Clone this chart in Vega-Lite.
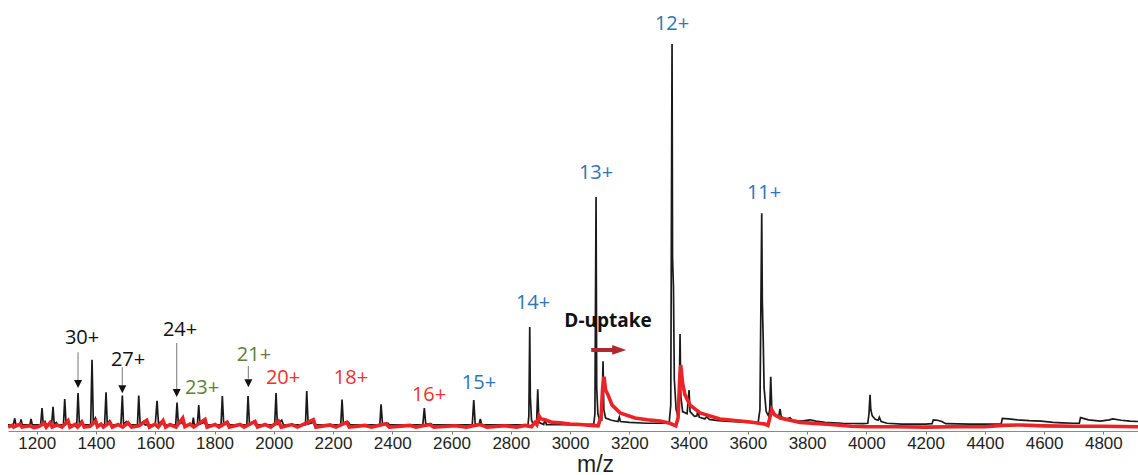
{
 "$schema": "https://vega.github.io/schema/vega-lite/v6.json",
 "width": 1130, "height": 431,
 "autosize": {"type": "none"},
 "padding": {"left": 8, "top": 0, "right": 0, "bottom": 44},
 "background": "white",
 "config": {"view": {"stroke": null}},
 "datasets": {
  "black": [
   {"mz":1103,"i":1.4},{"mz":1121,"i":1.4},{"mz":1125.7,"i":2.95},{"mz":1130,"i":1.4},{"mz":1143,"i":1.4},{"mz":1147,"i":2.7},{"mz":1151,"i":1.4},
   {"mz":1177,"i":1.4},{"mz":1180.8,"i":2.8},{"mz":1185,"i":1.4},
   {"mz":1213,"i":1.4},{"mz":1217.9,"i":5.3},{"mz":1222,"i":1.6},{"mz":1228,"i":2.2},{"mz":1233,"i":1.4},
   {"mz":1250,"i":1.4},{"mz":1255,"i":5.6},{"mz":1259,"i":1.6},{"mz":1266,"i":2.0},{"mz":1272,"i":1.4},
   {"mz":1290,"i":1.4},{"mz":1294.5,"i":7.4},{"mz":1299,"i":1.6},{"mz":1306,"i":2.2},{"mz":1312,"i":1.4},
   {"mz":1335,"i":1.4},{"mz":1339.4,"i":8.8},{"mz":1344,"i":1.6},{"mz":1352,"i":2.4},{"mz":1358,"i":1.4},
   {"mz":1382,"i":1.4},{"mz":1386.6,"i":16.5},{"mz":1391,"i":2.0},{"mz":1398,"i":3.0},{"mz":1404,"i":1.5},
   {"mz":1429,"i":1.4},{"mz":1433.9,"i":9.0},{"mz":1438,"i":1.7},{"mz":1446,"i":2.4},{"mz":1452,"i":1.4},
   {"mz":1484,"i":1.4},{"mz":1488.9,"i":8.2},{"mz":1493,"i":1.6},{"mz":1503,"i":2.2},{"mz":1509,"i":1.4},
   {"mz":1540,"i":1.4},{"mz":1544.3,"i":8.2},{"mz":1549,"i":1.6},{"mz":1560,"i":2.2},{"mz":1566,"i":1.4},
   {"mz":1600,"i":1.4},{"mz":1606,"i":7.0},{"mz":1611,"i":1.7},{"mz":1622,"i":2.3},{"mz":1628,"i":1.4},
   {"mz":1669,"i":1.4},{"mz":1673.5,"i":6.6},{"mz":1678,"i":1.6},{"mz":1690,"i":2.0},{"mz":1696,"i":1.4},
   {"mz":1725,"i":1.4},{"mz":1728.6,"i":3.1},{"mz":1732,"i":1.4},{"mz":1742,"i":1.4},{"mz":1746.8,"i":6.0},{"mz":1751,"i":1.6},{"mz":1765,"i":2.0},{"mz":1771,"i":1.4},
   {"mz":1822,"i":1.4},{"mz":1826.4,"i":8.1},{"mz":1831,"i":1.6},{"mz":1845,"i":2.1},{"mz":1851,"i":1.4},
   {"mz":1909,"i":1.4},{"mz":1913.2,"i":8.1},{"mz":1918,"i":1.6},{"mz":1932,"i":2.2},{"mz":1938,"i":1.4},
   {"mz":2003,"i":1.4},{"mz":2007.7,"i":8.8},{"mz":2012,"i":1.6},{"mz":2027,"i":2.5},{"mz":2033,"i":1.4},
   {"mz":2107,"i":1.4},{"mz":2111.3,"i":9.3},{"mz":2116,"i":1.6},{"mz":2132,"i":2.0},{"mz":2138,"i":1.4},
   {"mz":2226,"i":1.4},{"mz":2230.5,"i":7.3},{"mz":2235,"i":1.6},{"mz":2252,"i":2.0},{"mz":2258,"i":1.4},
   {"mz":2358,"i":1.4},{"mz":2362.1,"i":6.2},{"mz":2367,"i":1.6},{"mz":2385,"i":1.8},{"mz":2391,"i":1.4},
   {"mz":2503,"i":1.4},{"mz":2508.2,"i":5.3},{"mz":2513,"i":1.6},{"mz":2530,"i":1.7},{"mz":2536,"i":1.4},
   {"mz":2670,"i":1.4},{"mz":2675,"i":7.2},{"mz":2680,"i":1.6},{"mz":2693,"i":1.5},{"mz":2697.3,"i":2.8},{"mz":2702,"i":1.4},
   {"mz":2858,"i":1.4},{"mz":2861,"i":3.5},{"mz":2864,"i":24.1},{"mz":2866,"i":8},{"mz":2870,"i":2.5},{"mz":2876,"i":1.6},{"mz":2887,"i":1.6},{"mz":2891,"i":9.7},{"mz":2895,"i":2.0},{"mz":2911,"i":1.5},{"mz":2915.6,"i":2.8},{"mz":2920,"i":1.5},
   {"mz":2990,"i":1.5},{"mz":3060,"i":1.5},{"mz":3080,"i":1.6},{"mz":3084,"i":4},{"mz":3087.8,"i":54.3},{"mz":3090,"i":10},{"mz":3094,"i":4.0},{"mz":3100,"i":2.5},{"mz":3107,"i":2.5},{"mz":3111.4,"i":16.2},{"mz":3114,"i":5},{"mz":3120,"i":3.0},{"mz":3140,"i":2.5},{"mz":3162,"i":2.2},{"mz":3166.4,"i":3.2},{"mz":3170,"i":2.2},{"mz":3200,"i":2.0},{"mz":3260,"i":1.8},{"mz":3320,"i":1.8},{"mz":3335,"i":2.2},{"mz":3340,"i":6},
   {"mz":3344.3,"i":89.8},{"mz":3346,"i":40},{"mz":3349,"i":33.6},{"mz":3352,"i":12},{"mz":3358,"i":5},{"mz":3364,"i":3.5},{"mz":3368,"i":5},{"mz":3371.3,"i":22.5},{"mz":3374,"i":8},{"mz":3380,"i":4.5},{"mz":3395,"i":4},{"mz":3401.7,"i":9.5},{"mz":3405,"i":4.5},{"mz":3420,"i":3.4},{"mz":3428,"i":3.5},{"mz":3432,"i":4.9},{"mz":3436,"i":3.2},{"mz":3455,"i":2.8},{"mz":3461.4,"i":3.3},{"mz":3470,"i":2.7},{"mz":3500,"i":2.4},{"mz":3540,"i":2.2},{"mz":3600,"i":2.0},{"mz":3635,"i":2.0},{"mz":3641,"i":5},
   {"mz":3647,"i":50.5},{"mz":3649,"i":30},{"mz":3652,"i":21.3},{"mz":3655,"i":10},{"mz":3662,"i":4.5},{"mz":3670,"i":3.5},{"mz":3674,"i":5},{"mz":3677.4,"i":12.6},{"mz":3681,"i":5},{"mz":3695,"i":3.5},{"mz":3705,"i":3.6},{"mz":3708.8,"i":5.1},{"mz":3713,"i":3.3},{"mz":3730,"i":2.8},{"mz":3742.6,"i":3.1},{"mz":3750,"i":2.5},{"mz":3780,"i":2.3},{"mz":3810,"i":2.6},{"mz":3830,"i":2.3},{"mz":3860,"i":2.0},{"mz":3920,"i":1.8},{"mz":3990,"i":1.7},
   {"mz":4005,"i":1.8},{"mz":4009,"i":4},{"mz":4012.6,"i":8.4},{"mz":4015,"i":5},{"mz":4020,"i":3.5},{"mz":4030,"i":2.7},{"mz":4040,"i":2.5},{"mz":4044,"i":3.2},{"mz":4050,"i":2.2},{"mz":4070,"i":1.8},{"mz":4120,"i":1.6},{"mz":4200,"i":1.6},
   {"mz":4222,"i":1.7},{"mz":4226,"i":2.6},{"mz":4240,"i":2.5},{"mz":4255,"i":2.2},{"mz":4268,"i":1.7},{"mz":4350,"i":1.6},{"mz":4455,"i":1.6},{"mz":4459,"i":2.9},{"mz":4480,"i":2.8},{"mz":4510,"i":2.6},{"mz":4550,"i":2.4},{"mz":4590,"i":2.3},{"mz":4630,"i":2.0},{"mz":4660,"i":1.9},{"mz":4700,"i":1.8},{"mz":4719,"i":1.8},{"mz":4723,"i":3.1},{"mz":4750,"i":2.6},{"mz":4790,"i":2.3},{"mz":4820,"i":2.6},{"mz":4832,"i":2.8},{"mz":4860,"i":2.5},{"mz":4890,"i":2.3},{"mz":4917,"i":2.2}
  ],
  "red": [
   {"mz":1103,"i":0.9},{"mz":1110,"i":1.1},{"mz":1116.6,"i":1.3},{"mz":1122,"i":0.9},{"mz":1143.6,"i":1.6},{"mz":1150,"i":0.9},{"mz":1177,"i":1.2},{"mz":1190,"i":0.8},{"mz":1205,"i":1.0},{"mz":1224.6,"i":1.8},{"mz":1232,"i":0.9},{"mz":1244.9,"i":1.9},{"mz":1252,"i":0.9},{"mz":1268.5,"i":1.4},{"mz":1285,"i":0.9},{"mz":1305.6,"i":2.4},{"mz":1312,"i":0.9},{"mz":1329.3,"i":1.5},{"mz":1338,"i":0.9},{"mz":1352.9,"i":2.0},{"mz":1360,"i":0.9},{"mz":1380,"i":1.1},{"mz":1399.1,"i":2.3},{"mz":1405,"i":1.0},{"mz":1417,"i":1.6},{"mz":1425,"i":0.9},{"mz":1447.4,"i":2.0},{"mz":1455,"i":0.9},{"mz":1474.4,"i":1.5},{"mz":1490,"i":0.9},{"mz":1508.2,"i":1.9},{"mz":1520,"i":0.9},{"mz":1545,"i":1.2},{"mz":1571.3,"i":2.5},{"mz":1580,"i":0.9},{"mz":1599.3,"i":1.6},{"mz":1610,"i":0.9},{"mz":1626.3,"i":2.4},{"mz":1635,"i":0.9},{"mz":1650,"i":1.5},{"mz":1670,"i":0.9},{"mz":1692.8,"i":3.0},{"mz":1700,"i":1.0},{"mz":1717.4,"i":1.6},{"mz":1730,"i":0.9},{"mz":1768.1,"i":2.7},{"mz":1775,"i":0.9},{"mz":1801.8,"i":1.5},{"mz":1815,"i":0.9},{"mz":1842.3,"i":2.0},{"mz":1850,"i":0.9},{"mz":1886.2,"i":1.5},{"mz":1900,"i":0.9},{"mz":1936.8,"i":2.2},{"mz":1945,"i":0.9},{"mz":1970.6,"i":1.5},{"mz":1990,"i":0.9},{"mz":2015.5,"i":2.3},{"mz":2025,"i":0.9},{"mz":2061.7,"i":1.5},{"mz":2080,"i":0.9},{"mz":2133.6,"i":2.6},{"mz":2142,"i":0.9},{"mz":2190,"i":1.4},{"mz":2210,"i":0.9},{"mz":2246.3,"i":2.0},{"mz":2255,"i":0.9},{"mz":2308.1,"i":1.3},{"mz":2330,"i":0.9},{"mz":2378.9,"i":1.7},{"mz":2390,"i":0.9},{"mz":2460,"i":1.3},{"mz":2480,"i":0.9},{"mz":2527.5,"i":1.5},{"mz":2540,"i":0.9},{"mz":2611.9,"i":1.2},{"mz":2650,"i":0.9},{"mz":2696.3,"i":1.5},{"mz":2720,"i":0.9},{"mz":2780.6,"i":1.2},{"mz":2820,"i":0.9},{"mz":2848.1,"i":1.3},{"mz":2870,"i":1.0},{"mz":2881.9,"i":2.0},{"mz":2888,"i":1.5},{"mz":2895.4,"i":3.5},{"mz":2902,"i":2.8},{"mz":2915.6,"i":2.6},{"mz":2940,"i":2.0},{"mz":2966.2,"i":1.9},{"mz":3000,"i":1.6},{"mz":3033.7,"i":1.5},{"mz":3070,"i":1.3},{"mz":3095,"i":1.2},{"mz":3105,"i":3.5},{"mz":3110,"i":10},{"mz":3114.7,"i":12.6},{"mz":3120,"i":9.5},{"mz":3128,"i":8.4},{"mz":3142,"i":6.0},{"mz":3169,"i":4.2},{"mz":3219,"i":3.0},{"mz":3260,"i":2.6},{"mz":3304,"i":2.3},{"mz":3337,"i":1.8},{"mz":3357,"i":1.2},{"mz":3364.6,"i":3},{"mz":3370,"i":12},{"mz":3373.6,"i":15.3},{"mz":3380,"i":11},{"mz":3388,"i":8.4},{"mz":3405,"i":6.0},{"mz":3439,"i":4.2},{"mz":3506,"i":2.8},{"mz":3608,"i":2.1},{"mz":3658,"i":1.6},{"mz":3668,"i":1.3},{"mz":3674,"i":3.0},{"mz":3680.8,"i":4.9},{"mz":3690,"i":3.8},{"mz":3709,"i":3.0},{"mz":3776,"i":2.0},{"mz":3878,"i":1.5},{"mz":3950,"i":1.1},{"mz":4000,"i":1.0},{"mz":4100,"i":1.0},{"mz":4200,"i":0.9},{"mz":4300,"i":1.0},{"mz":4400,"i":1.0},{"mz":4460,"i":1.3},{"mz":4520,"i":1.4},{"mz":4600,"i":1.2},{"mz":4700,"i":1.1},{"mz":4800,"i":1.1},{"mz":4917,"i":1.0}
  ],
  "labels": [
   {"label":"30+","mz":1352.9,"i":21.6,"grp":"k"},
   {"label":"27+","mz":1508.2,"i":16.5,"grp":"k"},
   {"label":"24+","mz":1683.7,"i":23.4,"grp":"k"},
   {"label":"23+","mz":1757.9,"i":10.0,"grp":"g"},
   {"label":"21+","mz":1933.4,"i":17.6,"grp":"g"},
   {"label":"20+","mz":2031.3,"i":12.3,"grp":"r"},
   {"label":"18+","mz":2260.8,"i":12.3,"grp":"r"},
   {"label":"16+","mz":2524.1,"i":8.4,"grp":"r"},
   {"label":"15+","mz":2692.8,"i":11.1,"grp":"b"},
   {"label":"14+","mz":2875.1,"i":29.7,"grp":"b"},
   {"label":"13+","mz":3087.8,"i":59.9,"grp":"b"},
   {"label":"12+","mz":3344.3,"i":94.4,"grp":"b"},
   {"label":"11+","mz":3654.8,"i":55.2,"grp":"b"}
  ],
  "arrows": [
   {"mz":1339.4,"top":18.3,"bottom":11.8,"head":10.9},
   {"mz":1488.9,"top":14.8,"bottom":10.7,"head":9.7},
   {"mz":1672.4,"top":20.4,"bottom":9.7,"head":8.8},
   {"mz":1914.3,"top":15.1,"bottom":12.1,"head":11.1}
  ],
  "shift": [
   {"label":"D-uptake","mz":3128.3,"i":25.5,"start":3071.5,"end":3145,"head":3165.9,"y":18.8}
  ]
 },
 "layer": [
  {
   "data": {"name": "black"},
   "mark": {"type": "line", "color": "#1a1a1a", "strokeWidth": 1.7, "clip": true},
   "encoding": {
    "x": {"field": "mz", "type": "quantitative", "scale": {"domain": [1103, 4917], "nice": false, "zero": false},
          "axis": {"values": [1200,1400,1600,1800,2000,2200,2400,2600,2800,3000,3200,3400,3600,3800,4000,4200,4400,4600,4800],
                   "format": "d", "grid": false, "labelFont": "Liberation Sans", "labelFontSize": 17, "labelColor": "#231f20",
                   "tickSize": 3, "tickColor": "#777777", "domainColor": "#8a8a8a", "labelPadding": 1,
                   "title": "m/z", "titleFont": "Liberation Sans", "titleFontSize": 23, "titleFontWeight": "normal", "titleColor": "#231f20",
                   "titleX": 587, "titleY": 40, "titleBaseline": "alphabetic", "titleAnchor": "middle"}},
    "y": {"field": "i", "type": "quantitative", "scale": {"domain": [0, 100], "nice": false}, "axis": null}
   }
  },
  {
   "data": {"name": "red"},
   "mark": {"type": "line", "color": "#ec2227", "strokeWidth": 3.6, "clip": true},
   "encoding": {
    "x": {"field": "mz", "type": "quantitative"},
    "y": {"field": "i", "type": "quantitative", "axis": null}
   }
  },
  {
   "data": {"name": "arrows"},
   "mark": {"type": "rule", "color": "#8c8c8c", "strokeWidth": 1.2},
   "encoding": {
    "x": {"field": "mz", "type": "quantitative"},
    "y": {"field": "top", "type": "quantitative", "axis": null},
    "y2": {"field": "bottom"}
   }
  },
  {
   "data": {"name": "arrows"},
   "mark": {"type": "point", "shape": "M-1,-1L1,-1L0,1Z", "filled": true, "color": "#111111", "size": 64, "opacity": 1},
   "encoding": {
    "x": {"field": "mz", "type": "quantitative"},
    "y": {"field": "head", "type": "quantitative", "axis": null}
   }
  },
  {
   "data": {"name": "labels"},
   "mark": {"type": "text", "font": "Open Sans", "fontSize": 20, "baseline": "middle", "align": "center"},
   "encoding": {
    "x": {"field": "mz", "type": "quantitative"},
    "y": {"field": "i", "type": "quantitative", "axis": null},
    "text": {"field": "label"},
    "color": {"field": "grp", "type": "nominal", "legend": null,
              "scale": {"domain": ["k","g","r","b"], "range": ["#111111","#5e7f38","#f0302e","#2f74b5"]}}
   }
  },
  {
   "data": {"name": "shift"},
   "mark": {"type": "text", "font": "Open Sans", "fontSize": 19, "fontWeight": "bold", "baseline": "middle", "align": "center", "color": "#111111"},
   "encoding": {
    "x": {"field": "mz", "type": "quantitative"},
    "y": {"field": "i", "type": "quantitative", "axis": null},
    "text": {"field": "label"}
   }
  },
  {
   "data": {"name": "shift"},
   "mark": {"type": "rule", "color": "#b3262b", "strokeWidth": 4},
   "encoding": {
    "x": {"field": "start", "type": "quantitative"},
    "x2": {"field": "end"},
    "y": {"field": "y", "type": "quantitative", "axis": null}
   }
  },
  {
   "data": {"name": "shift"},
   "mark": {"type": "point", "shape": "M-1,-0.7L1,0L-1,0.7Z", "filled": true, "color": "#b3262b", "size": 196, "opacity": 1},
   "encoding": {
    "x": {"field": "head", "type": "quantitative"},
    "y": {"field": "y", "type": "quantitative", "axis": null}
   }
  }
 ]
}
